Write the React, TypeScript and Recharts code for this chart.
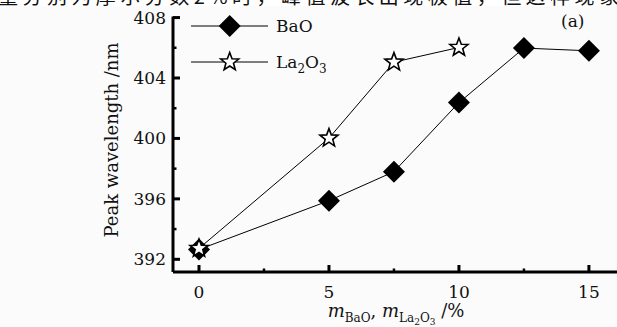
import { LineChart, Line, XAxis, YAxis } from "recharts";

// values
const bao = [
  { x: 0, y: 392.65 },
  { x: 5, y: 395.88 },
  { x: 7.5, y: 397.8 },
  { x: 10, y: 402.37 },
  { x: 12.5, y: 405.98 },
  { x: 15, y: 405.8 },
];
const la2o3 = [
  { x: 0, y: 392.72 },
  { x: 5, y: 400.02 },
  { x: 7.5, y: 405.05 },
  { x: 10, y: 406.02 },
];
const xTicks = [0, 2.5, 5, 7.5, 10, 12.5, 15];
const yTicks = [392, 394, 396, 398, 400, 402, 404, 406, 408];
const header = "量分别为摩尔分数2%时，峰值波长出现极值，但这样现象";

const W = 617;
const H = 327;
const AXIS_X = 173;
const AXIS_Y = 272;
const TOP = 16.5;
const SERIF = "'DejaVu Serif', serif";

function Diamond({ cx, cy, r = 11 }: { cx: number; cy: number; r?: number }) {
  return <path d={`M${cx},${cy - r}L${cx + r},${cy}L${cx},${cy + r}L${cx - r},${cy}Z`} fill="#000" />;
}

function Star({ cx, cy, r = 9.5 }: { cx: number; cy: number; r?: number }) {
  const pts: string[] = [];
  for (let i = 0; i < 10; i++) {
    const rad = i % 2 === 0 ? r : r * 0.42;
    const a = -Math.PI / 2 + (i * Math.PI) / 5;
    pts.push(`${cx + rad * Math.cos(a)},${cy + rad * Math.sin(a)}`);
  }
  return <polygon points={pts.join(" ")} fill="#fff" stroke="#000" strokeWidth={1.6} strokeLinejoin="miter" />;
}

function XTick(props: any) {
  const { x, payload } = props;
  const major = payload.value % 5 === 0;
  return (
    <g>
      <line x1={x} x2={x} y1={AXIS_Y} y2={AXIS_Y - (major ? 7 : 3.5)} stroke="#000" strokeWidth={major ? 3 : 2.5} />
      {major && (
        <text x={x} y={298} textAnchor="middle" fontFamily={SERIF} fontSize={17} fill="#111">
          {payload.value}
        </text>
      )}
    </g>
  );
}

function YTick(props: any) {
  const { y, payload } = props;
  const major = payload.value % 4 === 0;
  return (
    <g>
      <line x1={AXIS_X} x2={AXIS_X + (major ? 7 : 3.5)} y1={y} y2={y} stroke="#000" strokeWidth={major ? 3 : 2.5} />
      {major && (
        <text x={166} y={y + 6} textAnchor="end" fontFamily={SERIF} fontSize={17} fill="#111">
          {payload.value}
        </text>
      )}
    </g>
  );
}

export default function App() {
  return (
    <div style={{ position: "absolute", left: 0, top: 0, width: W, height: H, overflow: "hidden", background: "#fbfbfb" }}>
      <LineChart
        width={W}
        height={H}
        margin={{ top: TOP, right: 0, left: 0, bottom: 0 }}
        style={{ fontFamily: SERIF }}
      >
        <XAxis
          dataKey="x"
          type="number"
          domain={[-1, 16.08]}
          ticks={xTicks}
          allowDataOverflow
          height={H - AXIS_Y}
          axisLine={{ stroke: "#000", strokeWidth: 3 }}
          tickLine={false}
          tick={<XTick />}
          interval={0}
          label={{
            content: () => (
              <text x={396} y={317} textAnchor="middle" fontFamily={SERIF} fontSize={18} fill="#111">
                <tspan fontStyle="italic">m</tspan>
                <tspan fontSize={12} dy={5}>BaO</tspan>
                <tspan dy={-5}>, </tspan>
                <tspan fontStyle="italic">m</tspan>
                <tspan fontSize={12} dy={5}>La</tspan>
                <tspan fontSize={9} dy={3}>2</tspan>
                <tspan fontSize={12} dy={-3}>O</tspan>
                <tspan fontSize={9} dy={3}>3</tspan>
                <tspan dy={-8}> /%</tspan>
              </text>
            ),
          }}
        />
        <YAxis
          type="number"
          domain={[391.16, 408.07]}
          ticks={yTicks}
          allowDataOverflow
          width={AXIS_X}
          axisLine={{ stroke: "#000", strokeWidth: 3 }}
          tickLine={false}
          tick={<YTick />}
          interval={0}
          label={{
            content: () => (
              <text
                x={117.5}
                y={140}
                textAnchor="middle"
                transform="rotate(-90 117.5 140)"
                fontFamily={SERIF}
                fontSize={18}
                fill="#111"
              >
                Peak wavelength /nm
              </text>
            ),
          }}
        />
        <Line
          data={bao}
          dataKey="y"
          name="BaO"
          type="linear"
          stroke="#000"
          strokeWidth={1}
          dot={(p: any) => <Diamond key={p.index} cx={p.cx} cy={p.cy} />}
          isAnimationActive={false}
        />
        <Line
          data={la2o3}
          dataKey="y"
          name="La2O3"
          type="linear"
          stroke="#000"
          strokeWidth={1}
          dot={(p: any) => <Star key={p.index} cx={p.cx} cy={p.cy} />}
          isAnimationActive={false}
        />
      </LineChart>
      <svg width={W} height={80} style={{ position: "absolute", left: 0, top: 0, pointerEvents: "none" }}>
        <rect x={0} y={0} width={W} height={6} fill="#fff" />
        <text x={-2} y={4} fontFamily="'Noto Sans CJK SC'" fontSize={20} fill="#111" textLength={W + 4}>
          {header}
        </text>
        <text x={561} y={27} fontFamily={SERIF} fontSize={17} fill="#111">(a)</text>
        {/* legend */}
        <line x1={191} x2={268} y1={26} y2={26} stroke="#000" strokeWidth={1} />
        <Diamond cx={229.7} cy={26} />
        <text x={276} y={32} fontFamily={SERIF} fontSize={17} fill="#111">BaO</text>
        <line x1={191} x2={268} y1={62} y2={62} stroke="#000" strokeWidth={1} />
        <Star cx={229.7} cy={62} />
        <text x={276} y={68} fontFamily={SERIF} fontSize={17} fill="#111">
          La<tspan fontSize={12} dy={5}>2</tspan>
          <tspan dy={-5}>O</tspan>
          <tspan fontSize={12} dy={5}>3</tspan>
        </text>
      </svg>
    </div>
  );
}
